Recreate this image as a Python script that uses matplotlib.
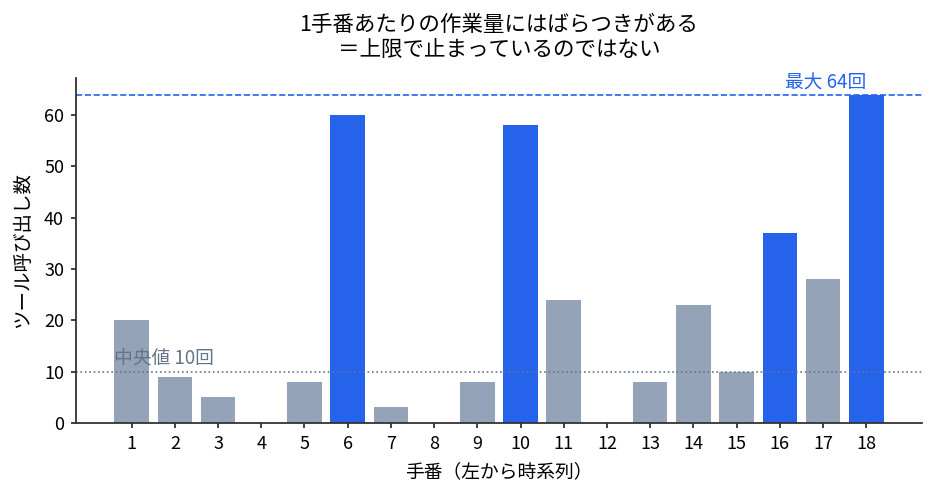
import matplotlib.pyplot as plt

plt.rcParams['font.family'] = ['Noto Sans CJK JP', 'DejaVu Sans']

turns = list(range(1, 19))
calls = [20, 9, 5, 0, 8, 60, 3, 0, 8, 58, 24, 0, 8, 23, 10, 37, 28, 64]
highlight = [6, 10, 16, 18]
median_calls = 10
max_calls = 64

BLUE = "#2563eb"
GREY = "#94a3b8"
SLATE = "#64748b"
DARK = "#333333"


def main():
    fig, ax = plt.subplots(figsize=(9.37, 4.98), dpi=100)
    fig.subplots_adjust(left=0.081, right=0.984, bottom=0.151, top=0.843)

    colors = [BLUE if t in highlight else GREY for t in turns]
    ax.bar(turns, calls, color=colors, width=0.8)

    ax.axhline(median_calls, color=SLATE, linestyle=":", linewidth=1.2)
    ax.axhline(max_calls, color=BLUE, linestyle="--", linewidth=1.2)
    ax.text(0.6, median_calls + 0.5, f"中央値 {median_calls}回", color=SLATE,
            fontsize=13.5, ha="left", va="bottom")
    ax.text(18, max_calls + 0.3, f"最大 {max_calls}回", color=BLUE,
            fontsize=13.5, ha="right", va="bottom")

    ax.set_xticks(turns)
    ax.tick_params(labelsize=13, color=DARK, labelcolor="black", width=1.3,
                   pad=5)
    ax.set_xlabel("手番（左から時系列）", fontsize=13.5, labelpad=6)
    ax.set_ylabel("ツール呼び出し数", fontsize=14, labelpad=8)
    ax.set_title("1手番あたりの作業量にはばらつきがある\n＝上限で止まっているのではない",
                 fontsize=15.5, pad=16, linespacing=1.15)
    for side in ["top", "right"]:
        ax.spines[side].set_visible(False)
    for side in ["left", "bottom"]:
        ax.spines[side].set_color(DARK)
        ax.spines[side].set_linewidth(1.3)

    fig.savefig("out.png")


if __name__ == "__main__":
    main()
